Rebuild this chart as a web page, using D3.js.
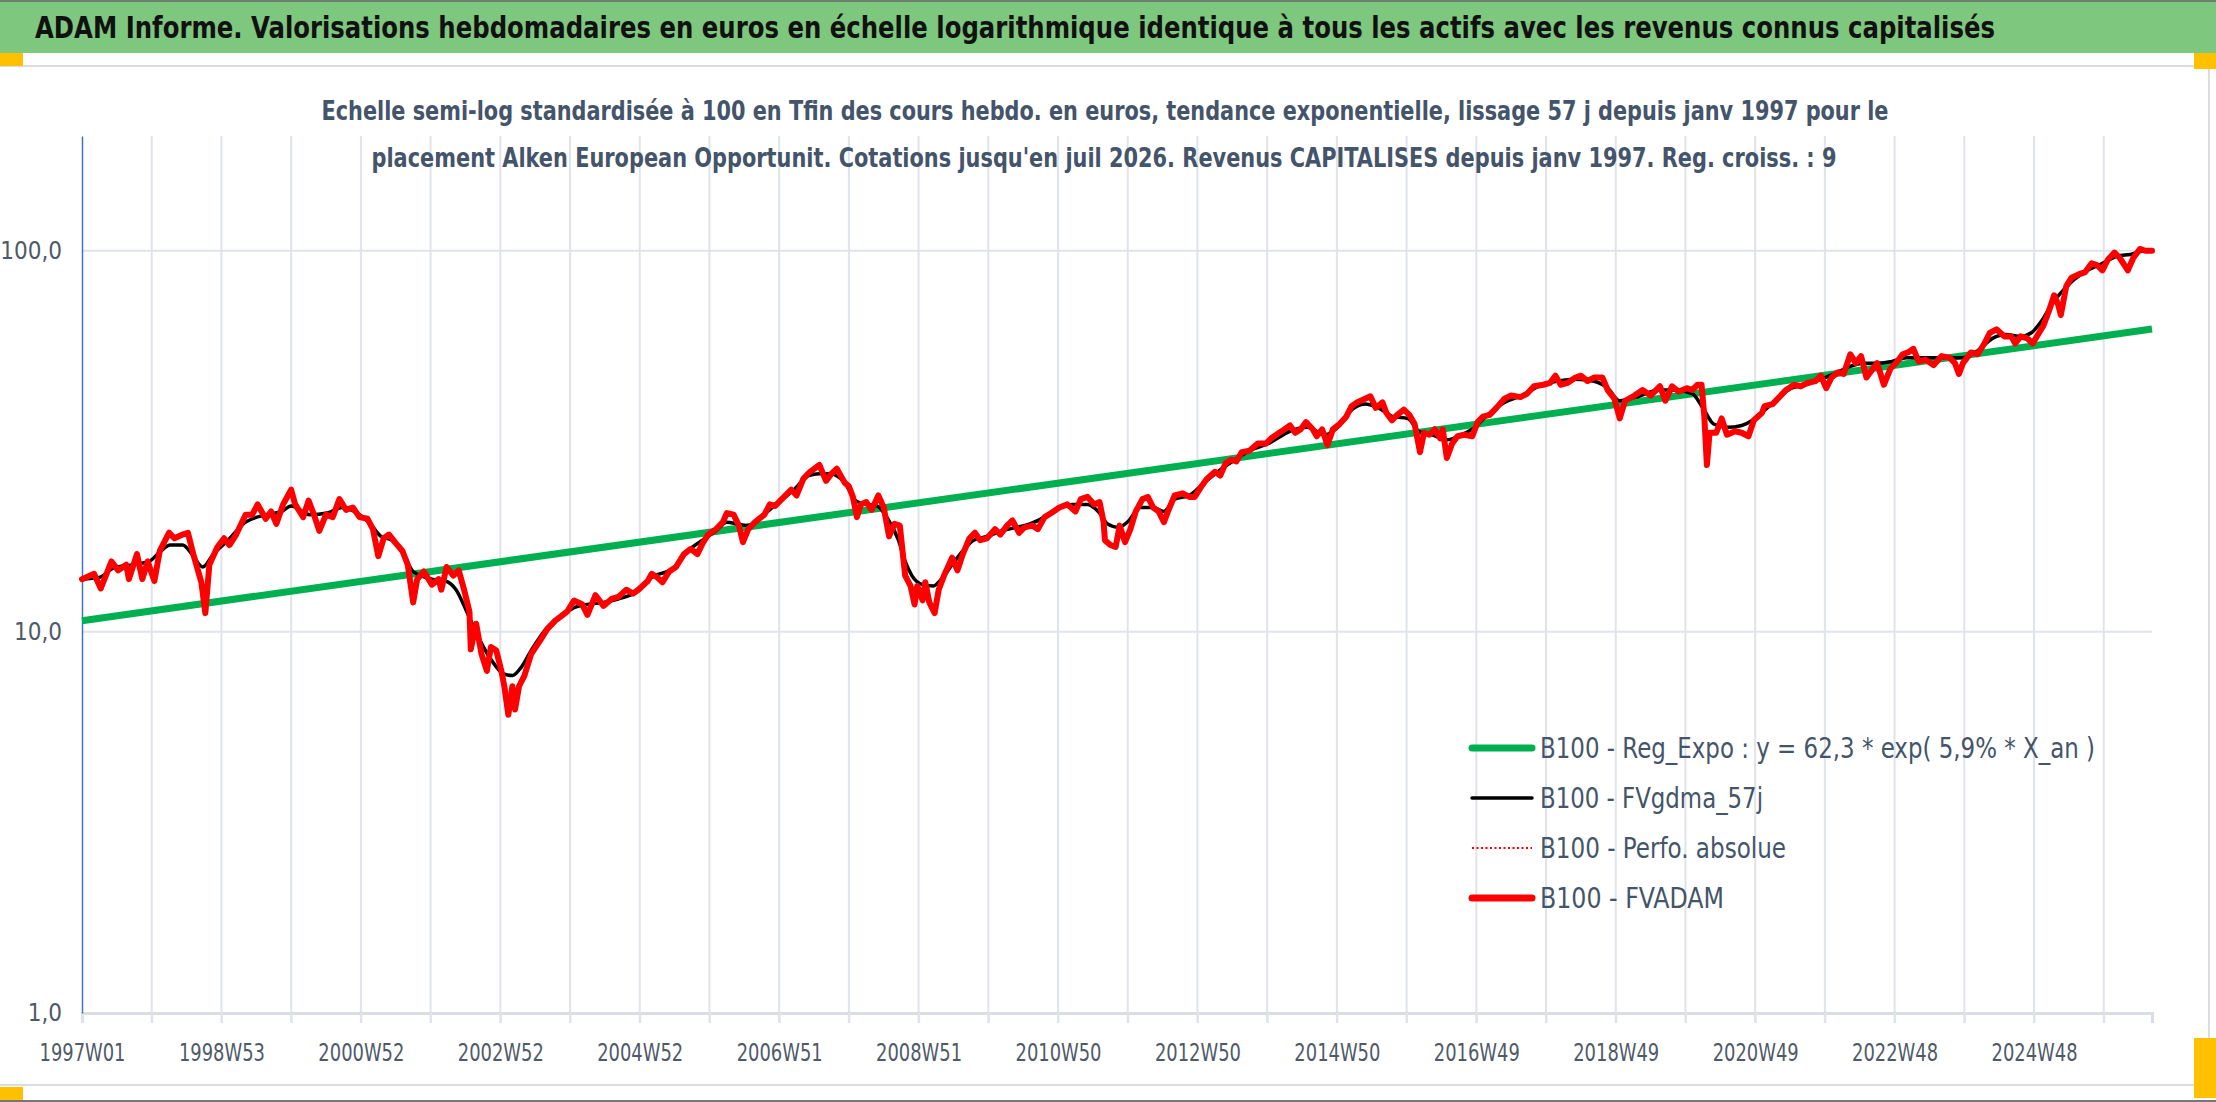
<!DOCTYPE html>
<html>
<head>
<meta charset="utf-8">
<script src="https://cdn.jsdelivr.net/npm/d3@7"></script>
<style>
  body { margin: 0; background: #ffffff; }
  svg text { font-family: "Liberation Sans Narrow", "DejaVu Sans Condensed", "Open Sans", sans-serif; }
</style>
</head>
<body>
<svg id="chart" width="2216" height="1102"></svg>
<script>
// week index 0 = 1997W01, last = 1544 (juil 2026)
var lastWeek = 1544;

// x tick labels, one every 104 weeks, gridlines every 52
var xTickLabels = ["1997W01","1998W53","2000W52","2002W52","2004W52","2006W51","2008W51",
  "2010W50","2012W50","2014W50","2016W49","2018W49","2020W49","2022W48","2024W48"];
var yTickValues = [1, 10, 100];

// B100 - Reg_Expo (straight on log scale)
var regWeeks = [0, 1544];
var regValues = [10.7, 62.3];

// B100 - FVADAM
var fvWeeks = [0,9,14,22,27,33,35,41,45,49,54,58,65,69,75,79,83,89,92,95,
  101,106,110,115,122,127,131,137,141,145,150,156,159,165,169,173,177,182,187,192,
  197,202,207,213,217,221,225,229,234,239,243,247,250,255,261,266,268,272,277,281,
  285,289,290,294,298,302,305,309,313,315,318,321,323,326,330,335,342,347,353,357,
  362,367,373,377,383,389,395,400,
  406,411,415,422,425,429,433,438,443,449,454,459,463,467,473,478,481,486,490,493,
  497,502,509,513,517,522,529,533,538,543,550,555,559,563,569,572,575,578,581,585,
  589,594,598,602,606,610,614,618,621,623,627,629,632,636,639,643,649,653,657,662,
  666,670,675,681,685,690,694,699,703,709,713,718,723,729,735,741,745,750,755,759,
  762,763,767,771,774,778,782,786,791,795,799,803,807,810,815,821,826,830,834,839,
  845,849,853,857,861,865,871,877,883,887,893,897,901,905,909,913,918,921,925,929,
  933,938,943,947,951,957,961,965,970,973,977,981,986,990,994,998,1001,1005,1009,1013,
  1015,1018,1022,1026,1031,1037,1041,1045,1050,1055,1061,1066,1073,1078,1083,1090,1095,1099,1103,1108,
  1114,1118,1123,1128,1134,1138,1143,1147,1151,1158,1164,1170,1177,
  1181,1186,1191,1197,1201,1205,1208,1210,1212,1214,1219,1223,1227,1233,1238,1243,1247,1253,1255,1261,
  1266,1271,1277,1282,1287,1293,1297,1301,1305,1310,1314,1319,1323,1327,1331,1335,1339,1344,1349,1354,
  1358,1362,1366,1370,1375,1381,1387,1393,1397,1400,1403,1409,1414,1419,1423,1428,1434,1439,1442,1446,
  1451,1455,1459,1463,1467,1471,1474,1476,1480,1484,1490,1494,1499,1503,1507,1511,1516,1520,1526,1530,
  1535,1539,1544];
var fvValues = [13.75,14.2,13.0,15.3,14.5,15.0,13.75,16.0,13.75,15.3,13.6,16.3,18.2,17.6,18.0,18.2,16.0,13.5,11.2,15.0,
  16.7,17.6,16.9,18.0,20.3,20.3,21.6,19.8,20.7,19.2,21.6,23.6,21.6,20.0,22.1,20.3,18.4,20.3,20.0,22.3,
  20.9,21.2,20.0,19.8,18.6,15.8,17.6,18.0,17.1,16.3,15.0,11.95,13.75,14.4,13.3,13.75,12.9,14.8,14.05,14.5,
  12.9,11.3,9.0,10.5,8.74,7.9,9.13,8.93,7.85,7.2,6.06,7.2,6.26,7.2,7.68,8.74,9.53,10.17,10.7,10.96,
  11.32,12.08,11.82,11.08,12.48,11.7,12.2,12.35,
  12.9,12.6,12.9,13.6,14.2,13.9,13.5,14.4,14.8,16.0,16.5,16.0,17.1,18.0,18.6,19.4,20.5,20.3,19.0,17.2,
  18.6,19.4,20.3,21.6,21.4,22.3,23.6,22.8,25.2,26.3,27.4,24.9,26.0,26.8,24.6,24.1,22.6,20.0,21.6,21.9,
  20.9,22.8,21.2,17.8,19.2,19.0,14.05,13.2,11.8,13.2,12.1,13.5,11.95,11.2,12.9,14.05,15.65,14.5,16.0,17.6,
  18.2,17.4,17.6,18.6,18.0,19.0,19.6,18.2,18.8,19.0,18.6,20.0,20.5,21.2,21.6,20.7,22.3,22.6,21.6,21.9,
  19.4,17.4,16.9,16.7,19.0,17.2,18.6,20.7,22.3,22.6,21.2,20.7,19.4,20.7,22.8,23.1,22.6,22.6,23.8,25.2,
  26.3,25.7,27.7,28.3,28.0,29.6,29.9,31.2,31.2,32.2,33.3,34.0,34.8,33.3,34.0,35.5,34.0,32.6,34.0,30.9,
  34.0,35.1,36.7,39.1,40.0,40.9,41.5,38.7,40.0,37.5,35.9,37.1,38.3,37.1,35.1,29.6,33.3,32.9,34.0,32.2,
  34.0,28.6,31.2,32.6,32.9,32.6,35.5,36.7,37.1,38.7,40.9,41.7,41.3,42.2,44.1,44.5,45.0,47.0,44.5,45.0,
  46.5,47.0,45.5,46.5,46.5,43.1,40.9,36.3,40.4,41.7,43.1,41.7,44.1,
  40.4,44.1,42.7,43.6,43.1,44.5,44.5,37.1,27.4,33.3,33.3,36.3,32.9,33.6,33.3,32.6,35.9,37.5,39.1,39.6,
  41.3,43.1,44.5,44.1,45.0,45.5,47.0,43.6,46.5,48.0,47.5,53.5,50.7,52.9,46.5,48.6,50.7,44.5,49.1,51.2,
  53.5,54.1,55.3,51.2,51.8,50.1,52.9,52.4,50.7,47.5,50.7,54.1,53.5,57.1,60.9,62.2,59.6,59.6,57.1,59.6,
  58.9,57.1,60.3,63.6,69.3,76.4,72.3,67.8,80.6,85.0,86.9,87.8,92.7,91.7,88.8,94.7,98.9,95.7,88.8,95.7,
  101.1,100.0,100.0];

// B100 - FVgdma_57j (smoothed)
var maWeeks = [0,13,23,37,50,58,66,75,82,90,98,109,122,138,149,156,170,183,194,207,
  215,223,231,239,247,261,271,279,287,298,306,314,321,327,335,346,357,367,378,389,400,
  414,425,441,451,465,473,481,489,497,505,515,531,542,550,558,569,577,585,593,601,
  609,614,619,627,635,641,649,657,665,675,686,697,707,718,729,739,750,758,
  765,773,781,789,799,807,815,826,837,847,858,871,885,901,914,927,938,946,957,967,
  978,989,997,1007,1018,1029,1039,1047,1061,1074,1087,1101,1114,1127,1138,1147,1159,1177,
  1187,1201,1209,1217,1227,1238,1246,1254,1265,1275,1286,1297,1307,1318,1329,1339,1350,1361,1371,1382,
  1393,1403,1414,1425,1435,1446,1454,1462,1470,1478,1486,1496,1507,1518,1528,1539,1544];
var maValues = [13.75,13.9,14.67,14.99,15.3,16.2,16.9,16.9,16.0,14.8,16.0,17.4,19.4,20.3,20.7,21.4,20.3,20.5,21.2,20.3,
  19.2,17.8,17.4,16.2,14.4,13.75,13.6,12.9,11.3,9.33,8.37,7.77,7.68,8.02,8.93,10.17,10.96,11.57,11.82,11.95,12.2,
  12.75,13.9,14.67,16.2,17.6,18.4,19.4,19.2,19.0,19.8,21.2,23.6,25.7,26.0,26.0,24.6,22.1,21.6,21.4,19.8,
  17.4,15.3,14.05,13.3,13.2,13.75,15.0,16.3,17.4,17.8,18.4,18.8,19.2,20.0,21.2,21.6,21.6,20.7,
  19.2,18.8,19.6,21.2,21.2,20.7,22.3,22.8,24.6,26.3,28.0,29.9,31.2,33.6,34.4,32.9,34.8,37.9,39.6,38.7,
  36.7,36.3,33.6,32.9,31.9,32.9,34.4,36.7,40.0,41.7,44.1,45.5,46.0,45.5,43.6,40.4,41.3,43.1,
  43.1,42.2,38.7,35.1,34.4,34.8,35.9,37.9,40.9,43.6,44.5,46.0,47.5,49.6,50.7,50.7,51.2,52.4,52.4,52.4,
  52.4,52.4,54.7,58.9,60.3,59.6,60.9,65.7,73.1,78.9,84.1,88.8,92.7,96.7,97.8,100.0,100.0];

var legendLabels = ["B100 - Reg_Expo : y = 62,3 * exp( 5,9% *  X_an )", "B100 - FVgdma_57j",
  "B100 - Perfo. absolue", "B100 - FVADAM"];

var svg = d3.select("#chart");
var slate = "#44546a";

// ---- frame ----
svg.append("rect").attr("x", 0).attr("y", 0).attr("width", 2216).attr("height", 1102).attr("fill", "#fff");
svg.append("rect").attr("x", 0).attr("y", 0).attr("width", 2216).attr("height", 53).attr("fill", "#7ec77e");
svg.append("rect").attr("x", 0).attr("y", 0).attr("width", 2216).attr("height", 2).attr("fill", "#6f7f6f");
svg.append("line").attr("x1", 0).attr("x2", 2210).attr("y1", 66).attr("y2", 66)
  .attr("stroke", "#dcdcdc").attr("stroke-width", 2);
svg.append("line").attr("x1", 2209).attr("x2", 2209).attr("y1", 66).attr("y2", 1085)
  .attr("stroke", "#dcdcdc").attr("stroke-width", 2);
svg.append("line").attr("x1", 0).attr("x2", 2210).attr("y1", 1085).attr("y2", 1085)
  .attr("stroke", "#dcdcdc").attr("stroke-width", 2);
svg.append("rect").attr("x", 0).attr("y", 1100).attr("width", 2216).attr("height", 2).attr("fill", "#777");
// selection handles
[[0, 53, 23, 13], [2194, 53, 22, 16], [2194, 1038, 22, 60], [0, 1087, 23, 13]].forEach(function (r) {
  svg.append("rect").attr("x", r[0]).attr("y", r[1]).attr("width", r[2]).attr("height", r[3]).attr("fill", "#ffc000");
});

// ---- titles ----
svg.append("text")
  .attr("x", 1015).attr("y", 27).attr("dy", "0.35em")
  .attr("text-anchor", "middle")
  .attr("textLength", 1960).attr("lengthAdjust", "spacingAndGlyphs")
  .style("font-size", "30px").style("font-weight", "bold").style("fill", "#111")
  .text("ADAM Informe. Valorisations hebdomadaires en euros en échelle logarithmique identique à tous les actifs avec les revenus connus capitalisés");

svg.append("text")
  .attr("x", 1105).attr("y", 111).attr("dy", "0.35em")
  .attr("text-anchor", "middle")
  .attr("textLength", 1567).attr("lengthAdjust", "spacingAndGlyphs")
  .style("font-size", "26px").style("font-weight", "bold").style("fill", slate)
  .text("Echelle semi-log standardisée à 100 en Tfin des cours hebdo. en euros, tendance exponentielle, lissage 57 j depuis janv 1997 pour le");

// ---- scales ----
var x = d3.scaleLinear().domain([0, lastWeek]).range([82, 2152]);
var y = d3.scaleLog().domain([1, 200]).range([1013, 136]);

// vertical gridlines every 52 weeks
var gridWeeks = d3.range(52, lastWeek, 52);
svg.append("g").selectAll("line").data(gridWeeks).enter().append("line")
  .attr("x1", function (d) { return x(d); }).attr("x2", function (d) { return x(d); })
  .attr("y1", 136).attr("y2", 1023)
  .attr("stroke", "#dfe4ea").attr("stroke-width", 2);
// horizontal gridlines
svg.append("g").selectAll("line").data([10, 100]).enter().append("line")
  .attr("x1", 82).attr("x2", 2152)
  .attr("y1", function (d) { return y(d); }).attr("y2", function (d) { return y(d); })
  .attr("stroke", "#dfe4ea").attr("stroke-width", 2);

svg.append("text")
  .attr("x", 1104).attr("y", 158).attr("dy", "0.35em")
  .attr("text-anchor", "middle")
  .attr("textLength", 1465).attr("lengthAdjust", "spacingAndGlyphs")
  .style("font-size", "26px").style("font-weight", "bold").style("fill", slate)
  .text("placement Alken European Opportunit. Cotations jusqu'en juil 2026. Revenus CAPITALISES depuis janv 1997. Reg. croiss. : 9");

// x axis
var xAxis = d3.axisBottom(x)
  .tickValues(d3.range(0, lastWeek, 52))
  .tickSize(10)
  .tickFormat(function (d) { return d % 104 === 0 ? xTickLabels[d / 104] : ""; });
var gx = svg.append("g").attr("transform", "translate(0,1013)").call(xAxis);
gx.select(".domain").attr("stroke", "#d9dee5").attr("stroke-width", 3);
gx.selectAll(".tick line").attr("stroke", "#dfe4ea").attr("stroke-width", 2);
gx.selectAll(".tick text")
  .attr("y", 31)
  .style("font-size", "24px").style("fill", "#4f5a68");
gx.selectAll(".tick text").filter(function () { return this.textContent !== ""; })
  .attr("textLength", 86).attr("lengthAdjust", "spacingAndGlyphs");

// y axis
var yAxis = d3.axisLeft(y).tickValues(yTickValues).tickSize(0).tickPadding(20)
  .tickFormat(function (d) { return d3.format(".1f")(d).replace(".", ","); });
var gy = svg.append("g").attr("transform", "translate(82,0)").call(yAxis);
gy.select(".domain").attr("stroke", "#4472c4").attr("stroke-width", 1.5);
gy.selectAll(".tick text").style("font-size", "24px").style("fill", "#4f5a68");

// ---- series ----
var line = d3.line().x(function (d) { return x(d[0]); }).y(function (d) { return y(d[1]); });

svg.append("path").datum(d3.zip(regWeeks, regValues))
  .attr("d", line).attr("fill", "none")
  .attr("stroke", "#00b050").attr("stroke-width", 7);

svg.append("path").datum(d3.zip(maWeeks, maValues))
  .attr("d", line.curve(d3.curveMonotoneX)).attr("fill", "none")
  .attr("stroke", "#000").attr("stroke-width", 3.5);

line.curve(d3.curveLinear);
svg.append("path").datum(d3.zip(fvWeeks, fvValues))
  .attr("d", line).attr("fill", "none")
  .attr("stroke", "#ff0000").attr("stroke-width", 2).attr("stroke-dasharray", "2,2");

svg.append("path").datum(d3.zip(fvWeeks, fvValues))
  .attr("d", line).attr("fill", "none")
  .attr("stroke", "#ff0000").attr("stroke-width", 6)
  .attr("stroke-linejoin", "round").attr("stroke-linecap", "round");

// ---- legend ----
var legendStyles = [
  { color: "#00b050", width: 7, dash: null },
  { color: "#000000", width: 3.5, dash: null },
  { color: "#ff0000", width: 2, dash: "2,2.5" },
  { color: "#ff0000", width: 7, dash: null }
];
var legendTextWidths = [555, 223, 246, 184];
var lg = svg.append("g").selectAll("g").data(legendLabels).enter().append("g")
  .attr("transform", function (d, i) { return "translate(1470," + (748 + i * 50) + ")"; });
lg.append("line")
  .attr("x1", 2).attr("x2", 62).attr("y1", 0).attr("y2", 0)
  .attr("stroke", function (d, i) { return legendStyles[i].color; })
  .attr("stroke-width", function (d, i) { return legendStyles[i].width; })
  .attr("stroke-dasharray", function (d, i) { return legendStyles[i].dash; })
  .attr("stroke-linecap", function (d, i) { return legendStyles[i].dash ? "butt" : "round"; });
lg.append("text")
  .attr("x", 70).attr("y", 0).attr("dy", "0.35em")
  .attr("textLength", function (d, i) { return legendTextWidths[i]; })
  .attr("lengthAdjust", "spacingAndGlyphs")
  .style("font-size", "28px").style("fill", slate)
  .text(function (d) { return d; });
</script>
</body>
</html>
